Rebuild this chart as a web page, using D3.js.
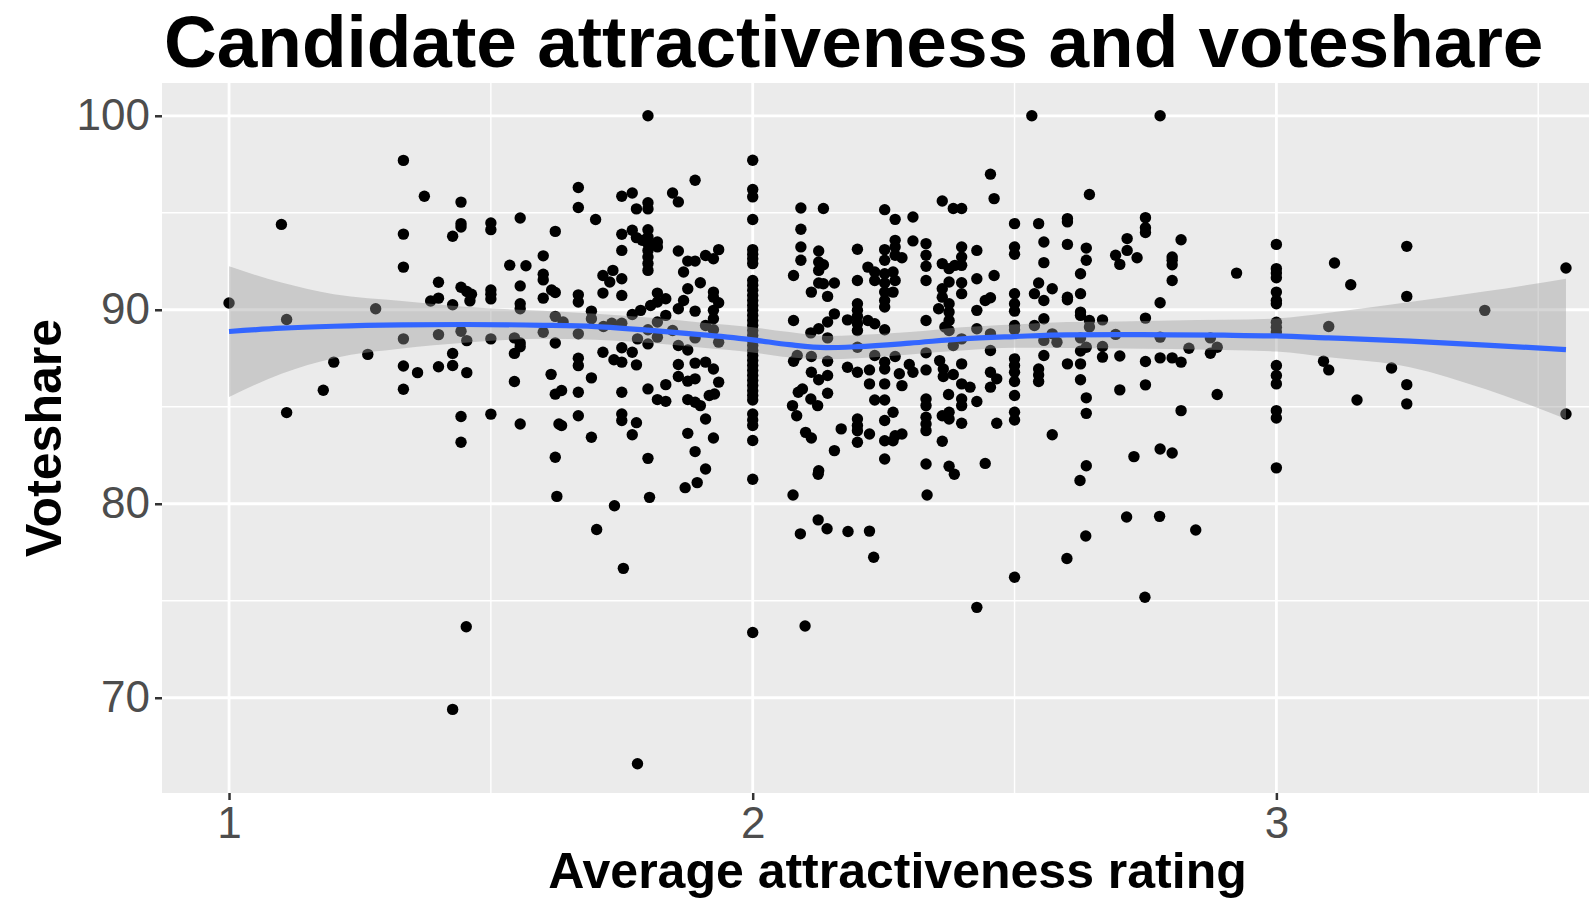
<!DOCTYPE html>
<html>
<head>
<meta charset="utf-8">
<script src="https://cdn.jsdelivr.net/npm/d3@7"></script>
<style>
  body { margin: 0; background: #fff; }
  text { font-family: "Liberation Sans", Arial, Helvetica, sans-serif; }
</style>
</head>
<body>
<script>
// [average attractiveness rating, voteshare], grouped by area
const ptsLeft = [
  [1.0,90.35],[1.1,94.4],[1.11,89.5],[1.11,84.7],[1.18,85.85],[1.2,87.3],[1.265,87.7],[1.28,90.05],
  [1.333,97.7],[1.333,93.9],[1.333,92.2],[1.333,88.5],[1.333,87.1],[1.333,85.9]
];
const ptsLow = [
  [1.373,95.85],[1.443,95.55],[1.443,94.44],[1.443,94.27],[1.427,93.79],[1.5,94.47],[1.5,94.13],[1.556,94.73],
  [1.623,94.04],[1.6,92.78],[1.536,92.3],[1.567,92.27],[1.6,91.83],[1.6,91.54],[1.616,91.02],[1.623,90.89],
  [1.4,91.42],[1.556,91.23],[1.4,90.6],[1.385,90.45],[1.443,91.16],[1.454,90.94],[1.463,90.8],[1.46,90.46],
  [1.427,90.26],[1.5,91.02],[1.5,90.8],[1.5,90.56],[1.556,90.31],[1.556,90.05],[1.6,90.6],[1.623,89.66],
  [1.4,88.72],[1.443,88.89],[1.454,88.41],[1.5,88.5],[1.545,88.55],[1.556,88.29],[1.556,88.09],[1.545,87.75],
  [1.6,88.84],[1.623,88.29],[1.427,87.75],[1.36,86.76],[1.4,87.06],[1.427,87.13],[1.454,86.76],[1.545,86.3],
  [1.615,86.67],[1.623,85.65],[1.443,84.5],[1.5,84.62],[1.556,84.11],[1.63,84.11],[1.443,83.17],[1.623,82.4],
  [1.453,73.66],[1.427,69.4]
];
const ptsUpperMid = [
  [1.8,100],[1.89,96.68],[1.667,96.3],[1.667,95.27],[1.75,95.85],[1.77,96.02],[1.778,95.2],[1.8,95.52],
  [1.8,95.2],[1.847,96.02],[1.858,95.56],[1.7,94.65],[1.75,93.89],[1.77,94.1],[1.778,93.72],[1.789,93.58],
  [1.8,94.13],[1.8,93.75],[1.8,93.41],[1.8,93.06],[1.8,92.72],[1.8,92.38],[1.8,92.03],[1.818,93.49],
  [1.818,93.24],[1.75,93.06],[1.858,93.03],[1.876,92.51],[1.89,92.51],[1.91,92.8],[1.925,92.63],[1.935,93.1],
  [1.868,91.95],[1.714,91.77],[1.733,92.03],[1.727,91.43],[1.75,91.6],[1.9,91.39],[1.876,91.08],[1.925,90.91],
  [1.925,90.65],[1.935,90.36],[1.667,90.77],[1.667,90.4],[1.714,90.86],[1.75,90.74],[1.818,90.86],[1.834,90.57],
  [1.818,90.4],[1.805,90.22],[1.786,89.97],[1.77,89.76],[1.868,90.48],[1.858,90.05],[1.89,89.93],[1.925,89.97],
  [1.925,89.54],[1.692,89.93],[1.834,89.71],[1.638,89.37],[1.692,89.54],[1.715,89.14],[1.731,89.31],[1.75,89.31],
  [1.8,88.97],[1.818,89.37],[1.818,88.59],[1.78,88.5],[1.8,88.24],[1.847,88.93],[1.91,89.19],[1.925,88.97],
  [1.935,88.33],[1.89,88.55],[1.667,88.76],[1.858,88.16],[1.876,87.93],[1.75,88.04],[1.77,87.81],[1.714,87.81],
  [1.735,87.42],[1.75,87.3],[1.778,87.16],[1.667,87.5],[1.667,87.12],[1.858,87.18],[1.89,87.25],[1.91,87.3],
  [1.925,86.95],[1.935,86.27],[1.692,86.49],[1.858,86.56],[1.876,86.32],[1.89,86.44],[1.834,86.14],[1.635,85.84],
  [1.667,85.75],[1.75,85.75],[1.8,85.92],[1.818,85.37],[1.834,85.28],[1.876,85.37],[1.89,85.23],[1.9,85.06],
  [1.917,85.58],[1.927,85.66],[1.667,84.54],[1.635,84.03],[1.692,83.43],[1.75,84.63],[1.75,84.29],[1.778,84.18],
  [1.77,83.56],[1.91,84.37],[1.876,83.63],[1.925,83.39],[1.89,82.69],[1.8,82.34],[1.91,81.79],
  [1.894,81.09],[1.871,80.83],[1.626,80.38],[1.803,80.33],[1.736,79.9],[1.702,78.67],[1.753,76.67],[1.78,66.6]
];
const twoVotes = [
  97.71,96.2,95.82,94.65,93.1,92.86,92.63,92.38,91.51,91.26,91.0,90.74,90.48,90.22,89.97,89.71,89.45,89.19,
  88.93,88.67,88.42,88.16,87.9,87.64,87.38,87.13,86.87,86.61,86.35,86.09,85.83,85.58,85.35,84.63,84.32,84.03,
  83.26,81.26,73.36
];
const ptsTwoPlus = [
  [2.092,95.25],[2.135,95.22],[2.092,94.15],[2.092,93.24],[2.092,92.55],[2.078,91.77],[2.126,93.03],[2.126,92.46],
  [2.135,92.32],[2.126,92.03],[2.126,91.38],[2.135,91.34],[2.156,91.38],[2.112,90.91],[2.143,90.69],[2.2,93.12],
  [2.2,91.51],[2.22,92.2],[2.233,91.95],[2.233,91.51],[2.252,95.16],[2.272,94.66],[2.252,93.1],[2.252,92.55],
  [2.272,93.58],[2.272,93.24],[2.272,92.81],[2.252,91.86],[2.252,91.38],[2.252,90.91],[2.268,91.95],[2.272,91.51],
  [2.268,90.91],[2.252,90.48],[2.252,90.14],[2.2,90.31],[2.2,89.97],[2.2,89.66],[2.2,89.28],[2.2,88.93],
  [2.181,89.48],[2.22,89.45],[2.233,89.28],[2.156,89.79],[2.143,89.37],[2.126,89.02],[2.111,88.81],[2.078,89.45],
  [2.143,88.55],[2.252,88.97],[2.2,88.07],[2.085,87.64],[2.078,87.35],[2.112,87.59],[2.143,87.35],[2.112,86.78],
  [2.126,86.39],[2.143,86.61],[2.143,85.7],[2.181,87.04],[2.2,86.78],[2.223,86.9],[2.233,87.64],[2.252,87.3],
  [2.252,86.95],[2.252,86.18],[2.272,87.59],[2.28,86.7],[2.223,86.18],[2.095,85.92],[2.087,85.75],[2.111,85.4],
  [2.124,85.06],[2.076,85.06],[2.084,84.54],[2.233,85.35],[2.252,85.35],[2.268,84.72],[2.252,84.29],[2.2,84.37],
  [2.2,84.03],[2.2,83.77],[2.2,83.17],[2.223,83.6],[2.169,83.86],[2.156,82.74],[2.101,83.68],[2.112,83.39],
  [2.252,83.25],[2.268,83.25],[2.252,82.31],[2.272,83.51],[2.126,81.7],
  [2.077,80.45],[2.125,81.52],[2.385,81.52],[2.333,80.45],[2.125,79.17],[2.142,78.71],[2.091,78.45],[2.182,78.57],
  [2.223,78.59],[2.231,77.24],[2.5,76.21],[2.428,74.66],[2.1,73.7]
];
const ptsHalf = [
  [2.533,100],[2.454,96.99],[2.461,95.73],[2.362,95.61],[2.383,95.22],[2.399,95.22],[2.306,94.78],[2.5,94.44],
  [2.546,94.44],[2.306,93.55],[2.285,92.68],[2.331,93.41],[2.331,92.81],[2.331,92.24],[2.331,91.51],[2.399,93.24],
  [2.399,92.72],[2.399,92.29],[2.362,92.38],[2.375,92.12],[2.386,92.29],[2.428,93.06],[2.5,93.24],[2.5,92.86],
  [2.556,93.49],[2.556,92.43],[2.461,91.77],[2.428,91.6],[2.375,91.43],[2.362,91.08],[2.362,90.65],[2.399,91.39],
  [2.399,90.83],[2.355,90.05],[2.375,90.31],[2.375,89.88],[2.375,89.45],[2.367,89.11],[2.375,88.93],[2.444,90.48],
  [2.454,90.62],[2.428,89.97],[2.428,89.02],[2.5,90.83],[2.5,90.31],[2.5,89.93],[2.5,89.19],[2.5,88.97],
  [2.538,90.83],[2.546,91.38],[2.556,90.48],[2.572,91.08],[2.556,89.54],[2.538,89.19],[2.572,88.76],[2.581,88.33],
  [2.556,88.42],[2.331,89.45],[2.454,88.76],[2.399,88.5],[2.383,88.16],[2.454,87.9],[2.556,87.64],[2.331,87.78],
  [2.357,87.38],[2.364,86.95],[2.364,86.56],[2.383,86.66],[2.399,87.21],[2.331,86.9],[2.299,87.18],[2.306,86.78],
  [2.285,86.09],[2.454,86.78],[2.466,86.44],[2.454,86.01],[2.5,87.47],[2.5,87.13],[2.5,86.78],[2.5,86.3],
  [2.5,85.58],[2.546,86.95],[2.546,86.64],[2.546,86.3],[2.399,86.18],[2.415,86.01],[2.399,85.4],[2.399,85.06],
  [2.428,85.27],[2.374,85.63],[2.331,85.4],[2.331,85.06],[2.331,84.46],[2.331,84.11],[2.331,83.77],[2.362,84.54],
  [2.375,84.72],[2.375,84.37],[2.399,84.15],[2.466,84.15],[2.5,84.72],[2.5,84.32],[2.572,83.56],[2.285,83.6],
  [2.362,83.22],[2.331,82.05],[2.375,81.93],[2.444,82.08]
];
const ptsHigh = [
  [2.778,100],[2.643,95.94],[2.601,94.7],[2.601,94.53],[2.75,94.75],[2.75,94.23],[2.75,93.98],[2.601,93.37],
  [2.637,93.18],[2.637,92.55],[2.715,93.67],[2.715,93.06],[2.693,92.81],[2.701,92.34],[2.734,92.68],[2.818,93.61],
  [2.801,92.72],[2.801,92.55],[2.801,92.32],[2.801,91.51],[2.626,91.86],[2.601,90.65],[2.601,90.52],[2.626,90.83],
  [2.778,90.36],[2.626,89.88],[2.626,89.71],[2.643,89.45],[2.643,89.11],[2.668,89.48],[2.75,89.57],[2.626,88.55],
  [2.693,88.73],[2.778,88.59],[2.637,88.07],[2.626,87.87],[2.668,88.11],[2.668,87.56],[2.701,87.62],[2.75,87.33],
  [2.778,87.52],[2.801,87.52],[2.818,87.3],[2.833,88.02],[2.874,88.55],[2.874,87.76],[2.887,88.07],[2.601,87.21],
  [2.626,87.21],[2.626,86.39],[2.637,85.46],[2.701,85.87],[2.75,86.13],[2.887,85.63],[2.637,84.66],[2.818,84.8],
  [2.778,82.82],[2.801,82.62],[2.728,82.43],[2.637,81.96],
  [2.625,81.2],[2.714,79.32],[2.777,79.35],[2.636,78.34],[2.846,78.65],[2.6,77.18],[2.749,75.18]
];
const ptsTop = [
  [3.0,93.37],[3.0,92.12],[3.0,91.89],[3.0,91.65],[3.0,90.91],[3.0,90.48],[3.0,90.31],[3.0,89.36],[3.0,89.1],
  [3.0,88.85],[3.0,87.13],[3.0,86.61],[3.0,86.18],[3.0,84.8],[3.0,84.42],[3.0,81.85],[2.924,91.89],[3.111,92.41],
  [3.142,91.29],[3.1,89.14],[3.09,87.35],[3.1,86.9],[3.154,85.35],[3.249,93.27],[3.249,90.69],[3.22,87.0],
  [3.249,86.14],[3.249,85.15],[3.398,89.97],[3.553,92.15],[3.553,84.63]
];

// loess fit and its 95% band
const smoothX   = [1.0, 1.1, 1.2, 1.33, 1.45, 1.6, 1.7, 1.8, 1.9, 2.0, 2.07, 2.14, 2.2, 2.3, 2.4, 2.5, 2.6, 2.7, 2.8, 2.9, 3.0, 3.1, 3.255, 3.4, 3.553];
const smoothY   = [88.88, 89.05, 89.15, 89.22, 89.24, 89.2, 89.13, 88.95, 88.72, 88.45, 88.2, 88.05, 88.1, 88.28, 88.5, 88.62, 88.71, 88.72, 88.71, 88.69, 88.65, 88.55, 88.38, 88.18, 87.95];
const bandLow   = [85.5, 86.7, 87.5, 88.0, 88.3, 88.5, 88.45, 88.3, 88.05, 87.8, 87.55, 87.45, 87.5, 87.7, 87.9, 88.04, 88.03, 88.0, 87.98, 87.92, 87.85, 87.55, 87.04, 85.9, 84.37];
const bandHigh  = [92.24, 91.4, 90.8, 90.45, 90.15, 89.95, 89.8, 89.6, 89.35, 89.1, 88.85, 88.65, 88.7, 88.85, 89.1, 89.24, 89.37, 89.4, 89.45, 89.48, 89.55, 89.85, 90.4, 90.95, 91.6];

const xMajor = [1, 2, 3];
const xMinor = [1.5, 2.5, 3.5];
const yMajor = [70, 80, 90, 100];
const yMinor = [75, 85, 95];

const points = [].concat(ptsLeft, ptsLow, ptsUpperMid, twoVotes.map(v => [2.0, v]), ptsTwoPlus, ptsHalf, ptsHigh, ptsTop);
const smooth = smoothX.map((x, i) => ({ x: x, y: smoothY[i], lo: bandLow[i], hi: bandHigh[i] }));

const W = 1589, H = 898;
// panel runs past the right edge of the picture, as in the original
const panel = { left: 162, top: 83, right: 1633, bottom: 793 };

const svg = d3.select("body").append("svg")
  .attr("width", W)
  .attr("height", H);

const x = d3.scaleLinear().domain([0.872, 3.681]).range([panel.left, panel.right]);
const y = d3.scaleLinear().domain([65.09, 101.69]).range([panel.bottom, panel.top]);

// panel background
svg.append("rect")
  .attr("x", panel.left).attr("y", panel.top)
  .attr("width", panel.right - panel.left).attr("height", panel.bottom - panel.top)
  .attr("fill", "#EBEBEB");

// grid
const grid = svg.append("g").attr("stroke", "#fff");
grid.selectAll(".xmin").data(xMinor).enter().append("line")
  .attr("x1", d => x(d)).attr("x2", d => x(d))
  .attr("y1", panel.top).attr("y2", panel.bottom).attr("stroke-width", 1.4);
grid.selectAll(".ymin").data(yMinor).enter().append("line")
  .attr("y1", d => y(d)).attr("y2", d => y(d))
  .attr("x1", panel.left).attr("x2", panel.right).attr("stroke-width", 1.4);
grid.selectAll(".xmaj").data(xMajor).enter().append("line")
  .attr("x1", d => x(d)).attr("x2", d => x(d))
  .attr("y1", panel.top).attr("y2", panel.bottom).attr("stroke-width", 2.8);
grid.selectAll(".ymaj").data(yMajor).enter().append("line")
  .attr("y1", d => y(d)).attr("y2", d => y(d))
  .attr("x1", panel.left).attr("x2", panel.right).attr("stroke-width", 2.8);

// points
svg.append("g").selectAll("circle")
  .data(points)
  .enter().append("circle")
  .attr("cx", d => x(d[0]))
  .attr("cy", d => y(d[1]))
  .attr("r", 5.7)
  .attr("fill", "#000");

// confidence band and smooth line
const band = d3.area()
  .x(d => x(d.x))
  .y0(d => y(d.lo))
  .y1(d => y(d.hi))
  .curve(d3.curveMonotoneX);

svg.append("path")
  .datum(smooth)
  .attr("d", band)
  .attr("fill", "#999999")
  .attr("fill-opacity", 0.4);

const line = d3.line()
  .x(d => x(d.x))
  .y(d => y(d.y))
  .curve(d3.curveMonotoneX);

svg.append("path")
  .datum(smooth)
  .attr("d", line)
  .attr("fill", "none")
  .attr("stroke", "#3366FF")
  .attr("stroke-width", 5.2);

// axes
const xAxis = svg.append("g")
  .attr("transform", `translate(0,${panel.bottom})`)
  .call(d3.axisBottom(x).tickValues(xMajor).tickSize(7).tickPadding(7).tickFormat(d3.format("d")));
const yAxis = svg.append("g")
  .attr("transform", `translate(${panel.left},0)`)
  .call(d3.axisLeft(y).tickValues(yMajor).tickSize(7).tickPadding(5).tickFormat(d3.format("d")));

[xAxis, yAxis].forEach(a => {
  a.select(".domain").remove();
  a.selectAll(".tick line").attr("stroke", "#333333").attr("stroke-width", 2.5);
  a.selectAll(".tick text")
    .attr("fill", "#4D4D4D")
    .style("font-size", "44px")
    .style("font-family", "'Liberation Sans', Arial, Helvetica, sans-serif");
});

// titles
svg.append("text")
  .attr("x", 164)
  .attr("y", 67)
  .attr("font-size", 73)
  .attr("font-weight", "bold")
  .text("Candidate attractiveness and voteshare");

svg.append("text")
  .attr("x", (panel.left + panel.right) / 2)
  .attr("y", 888)
  .attr("text-anchor", "middle")
  .attr("font-size", 50)
  .attr("font-weight", "bold")
  .text("Average attractiveness rating");

svg.append("text")
  .attr("transform", `translate(61,${(panel.top + panel.bottom) / 2}) rotate(-90)`)
  .attr("text-anchor", "middle")
  .attr("font-size", 50)
  .attr("font-weight", "bold")
  .text("Voteshare");
</script>
</body>
</html>
